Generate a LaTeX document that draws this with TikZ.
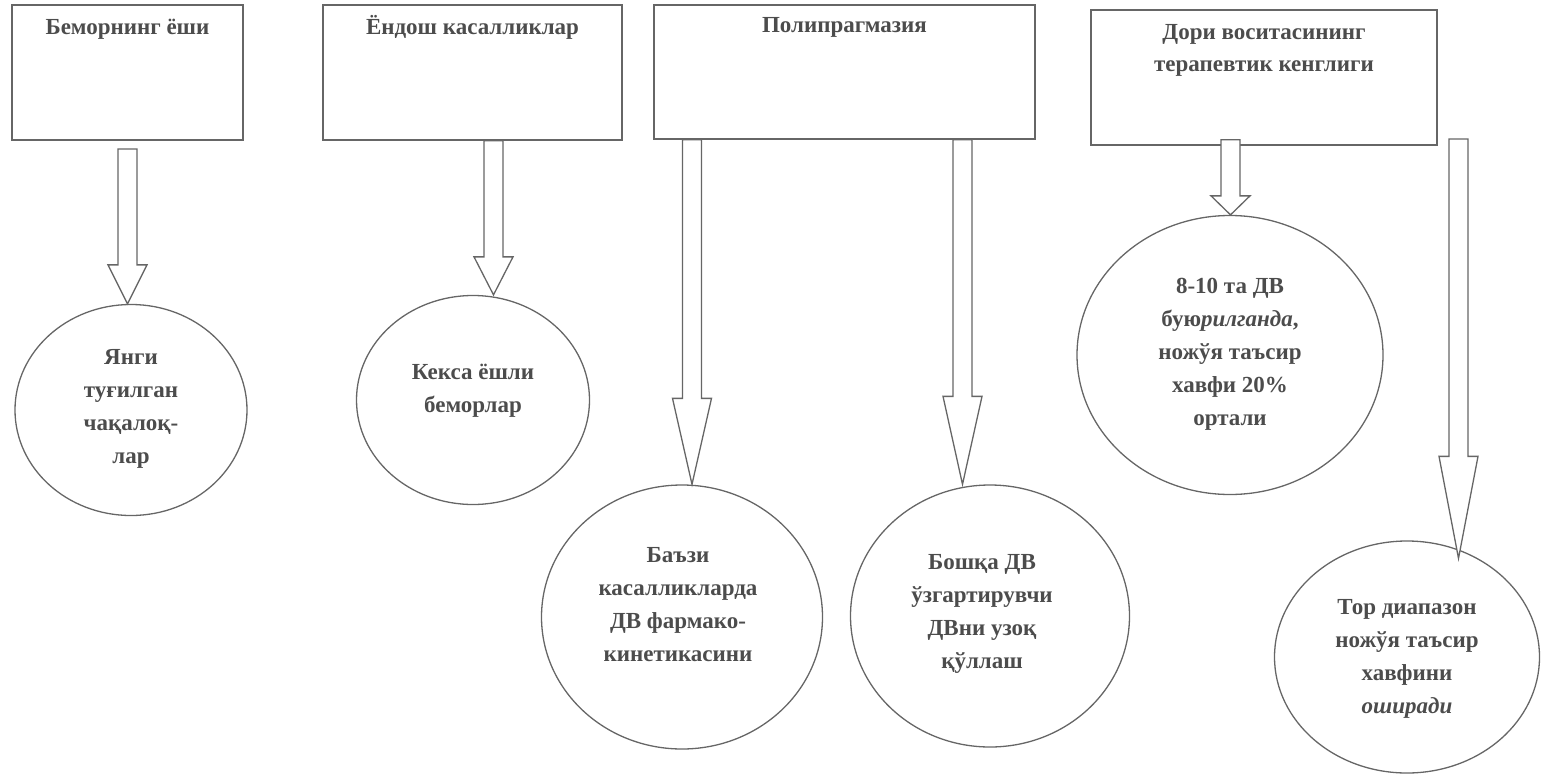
\documentclass[tikz,border=0pt]{standalone}
\usepackage{fontspec}
\setmainfont{Liberation Serif}
\usetikzlibrary{shapes.geometric,calc}
\definecolor{ink}{gray}{0.3}
\definecolor{lin}{gray}{0.4}
\tikzset{
  boxnode/.style={draw=lin, line width=1.3pt, rectangle, inner sep=0pt},
  ovalnode/.style={draw=lin, line width=1.3pt, ellipse, inner sep=0pt},
  ovaltext/.style={text=ink, inner sep=0pt, align=center,
    font=\fontsize{23}{33}\selectfont\bfseries},
  titlenode/.style={text=ink, inner sep=0pt, anchor=base, font=\fontsize{23}{33}\selectfont\bfseries},
  blockarrow/.style={draw=lin, line width=1.3pt, fill=white, line join=miter},
}
% #1 start coordinate, #2 tip coordinate expression, #3 head length
\newcommand\blockarr[3]{%
  \draw[blockarrow] let \p1=(#1), \p2=(#2) in
    (\x1-9.5pt,\y1) -- (\x1+9.5pt,\y1) -- (\x1+9.5pt,\y2+#3pt) -- (\x1+19.5pt,\y2+#3pt)
    -- (\x1,\y2) -- (\x1-19.5pt,\y2+#3pt) -- (\x1-9.5pt,\y2+#3pt) -- cycle;}
\begin{document}
\begin{tikzpicture}[x=1pt,y=-1pt]
\useasboundingbox (0,0) rectangle (1545,774);

% boxes
\node[boxnode, minimum width=231, minimum height=135] (b1) at (127.5,72.5) {};
\node[boxnode, minimum width=299, minimum height=135] (b2) at (472.5,72.5) {};
\node[boxnode, minimum width=381, minimum height=134] (b3) at (844.5,72) {};
\node[boxnode, minimum width=346, minimum height=135] (b4) at (1264,77.5) {};

\node[titlenode] (t1) at ([yshift=-30pt]b1.north) {Беморнинг ёши};
\node[titlenode] (t2) at ([yshift=-30pt]b2.north) {Ёндош касалликлар};
\node[titlenode] (t3) at ([yshift=-28pt]b3.north) {Полипрагмазия};
\node[titlenode] (t4a) at ([yshift=-30pt]b4.north) {Дори воситасининг};
\node[titlenode] (t4b) at ([yshift=-62pt]b4.north) {терапевтик кенглиги};

% ovals
\node[ovalnode, minimum width=232, minimum height=211] (c1) at (131,410) {};
\node[ovalnode, minimum width=233, minimum height=209] (c2) at (473,400) {};
\node[ovalnode, minimum width=281, minimum height=264] (c3) at (682,617) {};
\node[ovalnode, minimum width=279, minimum height=262] (c4) at (990,616) {};
\node[ovalnode, minimum width=306, minimum height=279] (c5) at (1230,355) {};
\node[ovalnode, minimum width=265, minimum height=232] (c6) at (1407,657) {};

\node[ovaltext] (c1t) at ([yshift=1pt]c1.center) {Янги\\туғилган\\чақалоқ-\\лар};
\node[ovaltext] (c2t) at ([yshift=9pt]c2.center) {Кекса ёшли\\беморлар};
\node[ovaltext] (c3t) at ([xshift=-4pt,yshift=12pt]c3.center) {Баъзи\\касалликларда\\ДВ фармако-\\кинетикасини};
\node[ovaltext] (c4t) at ([xshift=-8pt,yshift=2pt]c4.center) {Бошқа ДВ\\ўзгартирувчи\\ДВни узоқ\\қўллаш};
\node[ovaltext] (c5t) at ([yshift=1pt]c5.center) {8-10 та ДВ\\бую\textit{рилганда},\\ножўя таъсир\\хавфи 20\%\\ортали};
\node[ovaltext] (c6t) at ([yshift=-2pt]c6.center) {Тор диапазон\\ножўя таъсир\\хавфини\\\textit{оширади}};

% arrow start points
\coordinate (a1s) at (127.5,149);
\coordinate (a2s) at ([xshift=21pt]b2.south);
\coordinate (a3s) at ([xshift=-152.5pt]b3.south);
\coordinate (a4s) at ([xshift=118pt]b3.south);
\coordinate (a5s) at ([xshift=-33.5pt,yshift=6pt]b4.south);
\coordinate (a6s) at (1458.5,139);

% block arrows
\blockarr{a1s}{a1s |- c1.north}{39}
\blockarr{a2s}{a2s |- c2.north}{38}
\blockarr{a3s}{a3s |- c3.north}{86}
\blockarr{a4s}{a4s |- c4.north}{88}
\blockarr{a5s}{a5s |- c5.north}{19}
\blockarr{a6s}{$(a6s |- c6.north)+(0,18)$}{102}
\end{tikzpicture}
\end{document}
